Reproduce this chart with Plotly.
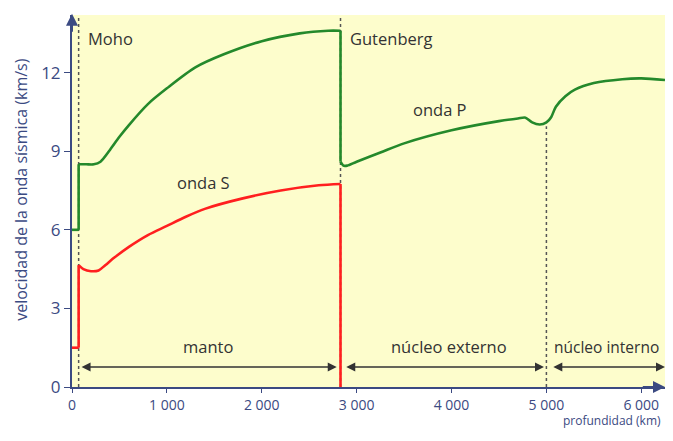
import plotly.graph_objects as go

# depth (km) and velocities (km/s)
p_depth = [0, 70, 70, 150, 230, 300, 400, 500, 600, 800, 1000, 1300, 1600, 2000, 2400, 2700, 2830,
           2830, 2860, 2900, 3000, 3250, 3500, 4000, 4500, 4700, 4780, 4850, 4930, 5000, 5050, 5100,
           5200, 5300, 5500, 5800, 6000, 6250]
p_vel = [6.0, 6.0, 8.5, 8.5, 8.5, 8.6, 9.05, 9.55, 10.0, 10.8, 11.4, 12.2, 12.7, 13.2, 13.5, 13.6, 13.6,
         8.6, 8.45, 8.45, 8.6, 8.95, 9.3, 9.8, 10.15, 10.25, 10.28, 10.1, 10.02, 10.1, 10.3, 10.7,
         11.1, 11.35, 11.6, 11.75, 11.78, 11.72]

s_depth = [0, 70, 70, 120, 200, 280, 350, 450, 600, 800, 1000, 1200, 1400, 1800, 2200, 2600, 2830, 2830]
s_vel = [1.5, 1.5, 4.65, 4.5, 4.42, 4.45, 4.65, 4.95, 5.35, 5.8, 6.15, 6.5, 6.8, 7.2, 7.5, 7.7, 7.75, 0.0]

boundaries = [70, 2830, 5000]
x_ticks = [0, 1000, 2000, 3000, 4000, 5000, 6000]
x_ticktext = ["0", "1 000", "2 000", "3 000", "4 000", "5 000", "6 000"]
y_ticks = [0, 3, 6, 9, 12]

navy = "#3b4a82"
txt = "#333333"
font = "Open Sans"
X_MAX = 6250
Y_MAX = 14.2

fig = go.Figure()

# boundary dotted lines
for b, top in [(boundaries[0], Y_MAX), (boundaries[1], Y_MAX), (boundaries[2], 9.95)]:
    fig.add_trace(go.Scatter(x=[b, b], y=[0, top], mode="lines",
                             line=dict(color="#555555", width=1.5, dash="dot"),
                             hoverinfo="skip", showlegend=False))


def add_curve(xs, ys, color):
    # split at vertical jumps: smooth pieces drawn as splines, jumps as straight segments
    start = 0
    for i in range(1, len(xs)):
        if xs[i] == xs[i - 1]:
            if i - 1 > start:
                fig.add_trace(go.Scatter(x=xs[start:i], y=ys[start:i], mode="lines",
                                         line=dict(color=color, width=2.6, shape="spline", smoothing=0.8),
                                         showlegend=False, cliponaxis=False))
            fig.add_trace(go.Scatter(x=xs[i - 1:i + 1], y=ys[i - 1:i + 1], mode="lines",
                                     line=dict(color=color, width=2.6), showlegend=False, cliponaxis=False))
            start = i
    if len(xs) - 1 > start:
        fig.add_trace(go.Scatter(x=xs[start:], y=ys[start:], mode="lines",
                                 line=dict(color=color, width=2.6, shape="spline", smoothing=0.8),
                                 showlegend=False, cliponaxis=False))


add_curve(p_depth, p_vel, "#24892b")
add_curve(s_depth, s_vel, "#ff1f1f")

ann = []


def label(x, y, t, xa="center", size=16.5):
    ann.append(dict(x=x, y=y, text=t, showarrow=False, xanchor=xa, yanchor="middle",
                    font=dict(family=font, size=size, color=txt)))


label(150, 13.3, "Moho", "left")
label(2910, 13.3, "Gutenberg", "left")
label(3880, 10.6, "onda P")
label(1390, 7.8, "onda S")
label(1430, 1.53, "manto")
label(3970, 1.53, "núcleo externo")
label(5060, 1.53, "núcleo interno", "left", 15.5)

# double-headed region arrows
for a, b in [(85, 2790), (2875, 4975), (5057, 6250)]:
    ann.append(dict(x=b, y=0.76, ax=a, ay=0.76, axref="x", ayref="y", xref="x", yref="y", text="",
                    showarrow=True, arrowhead=2, startarrowhead=2, arrowside="end+start",
                    arrowsize=1.2, arrowwidth=1.5, arrowcolor="#333333"))

# axis arrows
ann.append(dict(x=0, y=Y_MAX + 0.05, ax=0, ay=13.5, axref="x", ayref="y", text="", showarrow=True,
                arrowhead=2, arrowsize=1.2, arrowwidth=2, arrowcolor=navy))
ann.append(dict(x=X_MAX, y=0, ax=6000, ay=0, axref="x", ayref="y", text="", showarrow=True,
                arrowhead=2, arrowsize=1.2, arrowwidth=2, arrowcolor=navy))

# axis titles
ann.append(dict(x=0.997, y=-0.09, xref="paper", yref="paper", text="profundidad (km)", showarrow=False,
                xanchor="right", yanchor="middle", font=dict(family=font, size=12, color=navy)))
ann.append(dict(x=-0.086, y=0.53, xref="paper", yref="paper", text="velocidad de la onda sísmica (km/s)",
                showarrow=False, textangle=-90, xanchor="center", yanchor="middle",
                font=dict(family=font, size=16, color=navy)))

# page has an 8px body margin: figure is sized so the plot lands where the reference has it
fig.update_layout(
    width=657, height=425,
    margin=dict(l=64, r=0, t=7, b=46),
    paper_bgcolor="white", plot_bgcolor="#fdfdcc",
    showlegend=False,
    annotations=ann,
    xaxis=dict(range=[0, X_MAX], tickvals=x_ticks, ticktext=x_ticktext, showgrid=False, zeroline=False,
               showline=True, linecolor=navy, linewidth=2, ticks="outside", ticklen=4, tickcolor=navy,
               automargin=False,
               tickfont=dict(family=font, size=14, color=navy)),
    yaxis=dict(range=[0, Y_MAX], tickvals=y_ticks, showgrid=False, zeroline=False,
               showline=True, linecolor=navy, linewidth=2, ticks="outside", ticklen=6, tickcolor=navy,
               automargin=False,
               tickfont=dict(family=font, size=17, color=navy)),
)

fig.write_html("out.html")
